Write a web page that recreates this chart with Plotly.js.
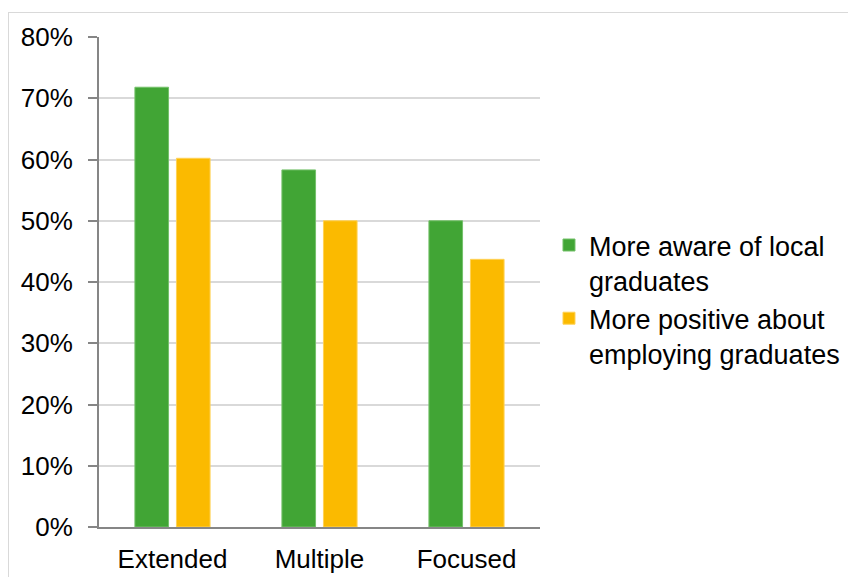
<!DOCTYPE html>
<html>
<head>
<meta charset="utf-8">
<script src="https://cdn.plot.ly/plotly-3.0.1.min.js"></script>
<style>
  html, body { margin: 0; padding: 0; background: #ffffff; }
  #wrap { position: relative; width: 848px; height: 577px; overflow: hidden; }
  #chart { position: absolute; left: 0; top: 0; width: 848px; height: 577px; }
  #frame { position: absolute; left: 8px; top: 12px; width: 860px; height: 600px;
           border-top: 1px solid #d9d9d9; border-left: 1px solid #d9d9d9; pointer-events: none; }
</style>
</head>
<body>
<div id="wrap">
  <div id="chart"></div>
  <div id="frame"></div>
</div>
<script>
// Data
const categories = ["Extended", "Multiple", "Focused"];
const seriesNames = ["More aware of local<br>graduates", "More positive about<br>employing graduates"];
const awareValues = [0.718, 0.583, 0.50];
const positiveValues = [0.602, 0.50, 0.437];
const yTickValues = [0, 0.1, 0.2, 0.3, 0.4, 0.5, 0.6, 0.7, 0.8];
const yTickLabels = ["0%", "10%", "20%", "30%", "40%", "50%", "60%", "70%", "80%"];

const FONT = "Liberation Sans, Arial, sans-serif";

const traces = [
  {
    type: "bar",
    x: categories,
    y: awareValues,
    name: seriesNames[0],
    marker: { color: "#41A535", line: { color: "#74C16A", width: 1 } },
    hoverinfo: "skip"
  },
  {
    type: "bar",
    x: categories,
    y: positiveValues,
    name: seriesNames[1],
    marker: { color: "#FBBA00", line: { color: "#FFD256", width: 1 } },
    hoverinfo: "skip"
  }
];

const layout = {
  width: 848,
  height: 577,
  margin: { l: 99, r: 308, t: 37, b: 50, pad: 0, autoexpand: false },
  paper_bgcolor: "#ffffff",
  plot_bgcolor: "#ffffff",
  font: { family: FONT, size: 26, color: "#000000" },
  barmode: "group",
  bargap: 0.435,
  bargroupgap: 0.19,
  showlegend: true,
  legend: {
    xref: "container",
    yref: "container",
    x: 0.6474,
    xanchor: "left",
    y: 0.481,
    yanchor: "middle",
    font: { family: FONT, size: 27, color: "#000000" },
    bgcolor: "rgba(0,0,0,0)",
    traceorder: "normal",
    valign: "top"
  },
  xaxis: {
    type: "category",
    showline: true,
    linecolor: "#868686",
    linewidth: 2,
    ticks: "",
    showgrid: false,
    zeroline: false,
    tickfont: { family: FONT, size: 26, color: "#000000" },
    ticklabelstandoff: 8,
    automargin: false,
    fixedrange: true
  },
  yaxis: {
    range: [0, 0.8],
    tickvals: yTickValues,
    ticktext: yTickLabels,
    showline: true,
    linecolor: "#868686",
    linewidth: 2,
    ticks: "outside",
    ticklen: 9,
    tickwidth: 2,
    tickcolor: "#868686",
    showgrid: true,
    gridcolor: "#d9d9d9",
    gridwidth: 2,
    zeroline: false,
    tickfont: { family: FONT, size: 26, color: "#000000" },
    ticklabelstandoff: 10,
    automargin: false,
    fixedrange: true
  }
};

Plotly.newPlot("chart", traces, layout, { displayModeBar: false, staticPlot: true });
</script>
</body>
</html>
